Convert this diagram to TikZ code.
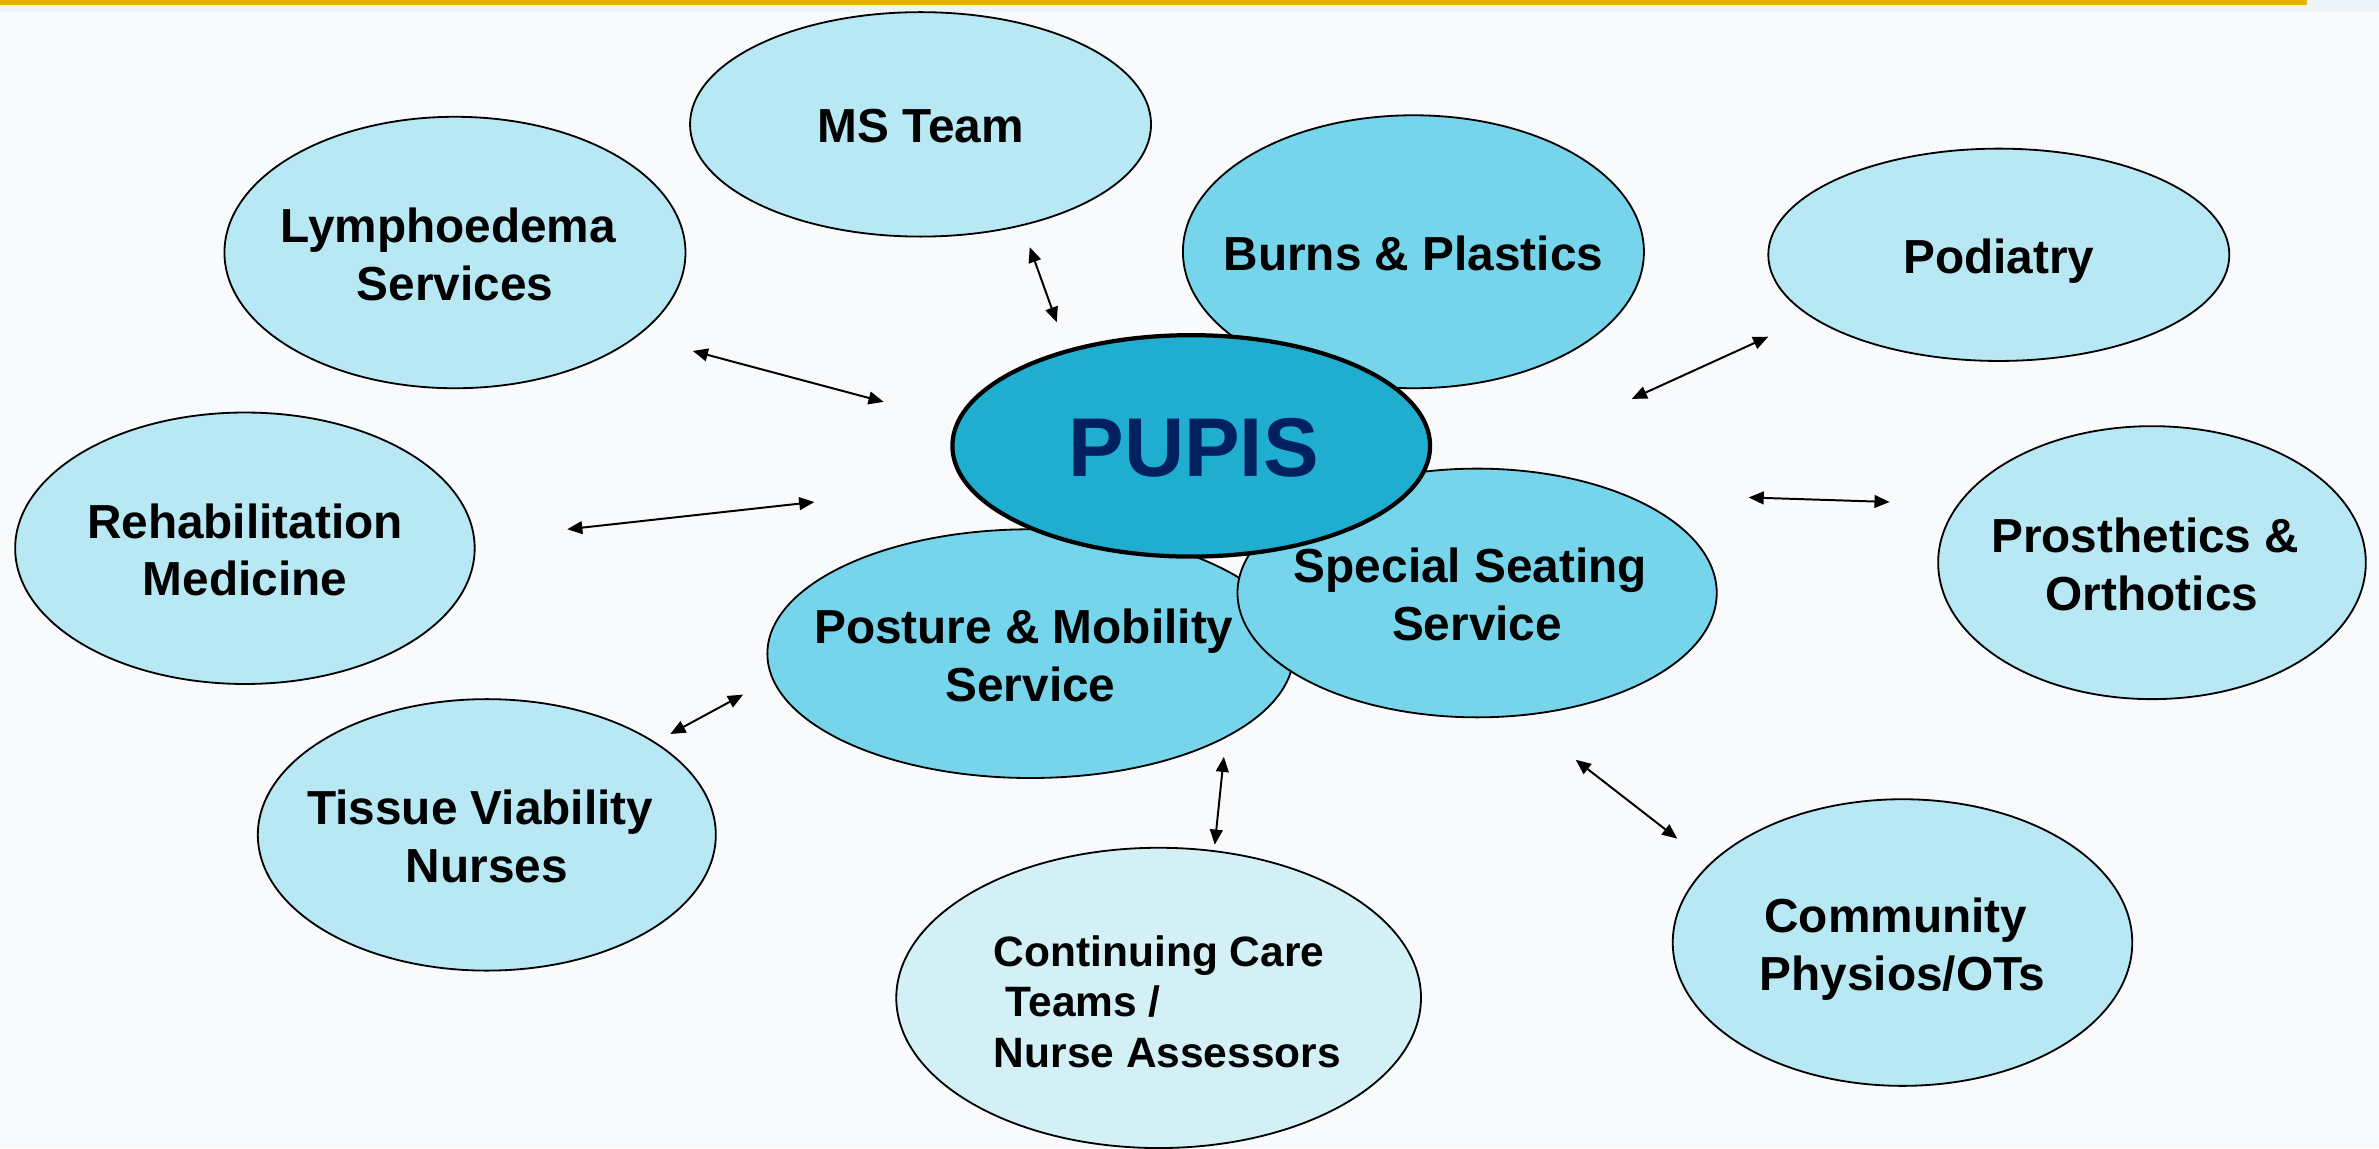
\documentclass[tikz,border=0pt]{standalone}
\usepackage{fontspec}
\setmainfont{Liberation Sans}
\usetikzlibrary{shapes.geometric,arrows.meta}
\definecolor{bgc}{HTML}{F9FAFC}
\definecolor{stripc}{HTML}{EEF4FA}
\definecolor{goldc}{HTML}{E8B000}
\definecolor{litec}{HTML}{B8E8F4}
\definecolor{midc}{HTML}{76D5EA}
\definecolor{pupisc}{HTML}{20AED0}
\definecolor{palec}{HTML}{D3F0F6}
\definecolor{navyc}{HTML}{002060}
\newcommand\tsp{\hspace*{0.28em}}
\begin{document}
\begin{tikzpicture}[x=0.5pt,y=-0.5pt,
  ell/.style={ellipse, draw=black, line width=0.6pt, inner sep=0pt},
  sz/.style 2 args={minimum width=#1pt, minimum height=#2pt},
  lite/.style={ell, fill=litec},
  mid/.style={ell, fill=midc},
  lbl/.style={font=\fontsize{15.75}{19}\selectfont\bfseries, align=center, text=black, inner sep=0pt, text depth=0pt, yshift=-0.5pt},
  link/.style={line width=0.65pt, {Triangle[length=5pt,width=4.2pt]}-{Triangle[length=5pt,width=4.2pt]}}
]
% background
\useasboundingbox (0,0) rectangle (1568.7,757);
\fill[bgc] (0,0) rectangle (1568.7,757);
\fill[stripc] (0,0) rectangle (1568.7,7.9);
\fill[goldc] (0,0) rectangle (1521,3.3);

% outer ellipses
\node[lite, sz={152}{74}]   (ms)    at (607,82)      {};
\node[lite, sz={152}{89.5}] (lymph) at (300,166.5)   {};
\node[mid,  sz={152}{90}]   (burns) at (932,166)     {};
\node[lite, sz={152}{70}]   (pod)   at (1318,168)    {};
\node[lite, sz={151.5}{89.5}] (rehab) at (161.5,361.5) {};
\node[lite, sz={141}{90}]   (pros)  at (1419,371)    {};
\node[lite, sz={151}{89.5}] (tissue) at (321,550.5)  {};
\node[ell, fill=palec, sz={173}{99}] (cc) at (764,658) {};
\node[lite, sz={151.5}{94.5}] (comm) at (1254.5,621.5) {};
% inner ellipses
\node[mid, sz={173.5}{82}] (post) at (679.5,431) {};
\node[mid, sz={158}{82}]   (ss)   at (974,391)   {};
% centre
\node[ellipse, draw=black, line width=1.4pt, fill=pupisc, inner sep=0pt, sz={157.5}{73}] (pupis) at (785.5,294) {};

% texts
\node[lbl] (ms-t)     at (ms)     {MS Team};
\node[lbl] (lymph-t)  at (lymph)  {Lymphoedema\tsp\\Services};
\node[lbl] (burns-t)  at (burns)  {Burns \& Plastics};
\node[lbl] (pod-t)    at (pod)    {Podiatry};
\node[lbl] (rehab-t)  at (rehab)  {Rehabilitation\\Medicine};
\node[lbl] (pros-t)   at (pros)   {Prosthetics \&\tsp\\Orthotics};
\node[lbl] (tissue-t) at (tissue) {Tissue Viability\tsp\\Nurses};
\node[lbl] (comm-t)   at (comm)   {Community\tsp\\Physios/OTs};
\node[lbl] (post-t)   at (post)   {Posture \& Mobility\tsp\\Service};
\node[lbl] (ss-t)     at (ss)     {Special Seating\tsp\\Service};
\node[font=\fontsize{27.5}{30}\selectfont\bfseries, text=navyc, inner sep=0pt] (pupis-t) at (787,295) {PUPIS};
\node[font=\fontsize{14}{16.75}\selectfont\bfseries, align=left, inner sep=0pt, anchor=west] (cc-t) at (655,660.5)
  {Continuing Care\\\hspace*{0.28em}Teams /\\Nurse Assessors};

% connectors
\coordinate (a1s) at (679,163);   \coordinate (a1e) at (696.8,212.5);
\coordinate (a2s) at (456.8,231.4); \coordinate (a2e) at (582.7,265);
\coordinate (a3s) at (374,349);   \coordinate (a3e) at (537,331);
\coordinate (a4s) at (442,484);   \coordinate (a4e) at (490,458);
\coordinate (a5s) at (801,557);   \coordinate (a5e) at (807,499);
\coordinate (a6s) at (1106,553);  \coordinate (a6e) at (1039,501);
\coordinate (a7s) at (1153,328);  \coordinate (a7e) at (1246,331);
\coordinate (a8s) at (1076,263);  \coordinate (a8e) at (1166,222);
\draw[link] (a1s) -- (a1e);
\draw[link] (a2s) -- (a2e);
\draw[link] (a3s) -- (a3e);
\draw[link] (a4s) -- (a4e);
\draw[link] (a5s) -- (a5e);
\draw[link] (a6s) -- (a6e);
\draw[link] (a7s) -- (a7e);
\draw[link] (a8s) -- (a8e);
\end{tikzpicture}
\end{document}
